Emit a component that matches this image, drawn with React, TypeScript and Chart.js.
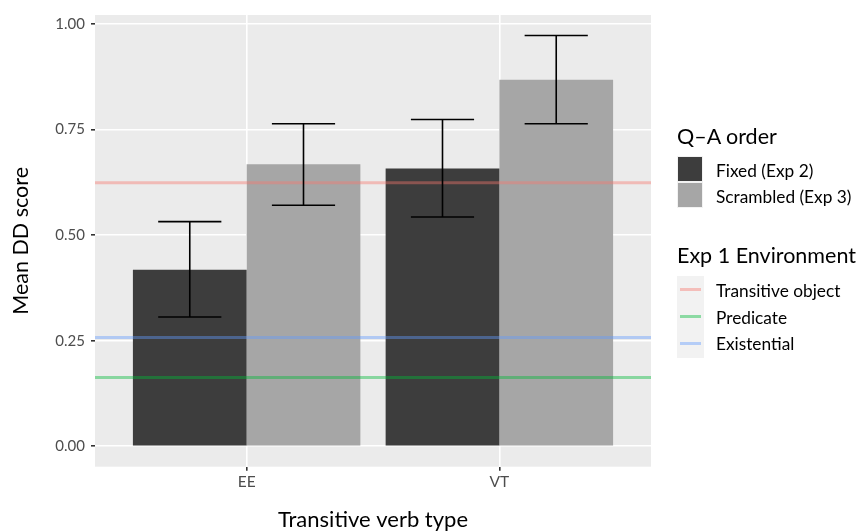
import React, { useEffect, useRef } from "react";
import { Chart, registerables } from "chart.js";

Chart.register(...registerables);

// ---- Data ----
const categories = ["EE", "VT"];
const orderGroups = ["Fixed (Exp 2)", "Scrambled (Exp 3)"];
const fixedMeans = [0.418, 0.658];
const fixedLower = [0.306, 0.543];
const fixedUpper = [0.532, 0.774];
const scrambledMeans = [0.668, 0.868];
const scrambledLower = [0.571, 0.764];
const scrambledUpper = [0.764, 0.973];
const envNames = ["Transitive object", "Predicate", "Existential"];
const envValues = [0.624, 0.163, 0.2575];
const yTicks = [0, 0.25, 0.5, 0.75, 1.0];
const yTickLabels = ["0.00", "0.25", "0.50", "0.75", "1.00"];
const xTitle = "Transitive verb type";
const yTitle = "Mean DD score";
const legendTitle1 = "Q\u2013A order";
const legendTitle2 = "Exp 1 Environment";

// ---- Styles ----
const FONT = "Lato";
const barColors = ["#3D3D3D", "#A6A6A6"];
const envColors = ["rgba(248,118,109,0.42)", "rgba(0,186,56,0.42)", "rgba(97,156,255,0.42)"];
const X_MIN = 0.4;
const X_MAX = 2.6;
const Y_MIN = -0.0486;
const Y_MAX = 1.0216;

const panelBg = {
  id: "panelBg",
  beforeDraw(chart: any) {
    const { ctx, chartArea: a } = chart;
    ctx.save();
    ctx.fillStyle = "#FFFFFF";
    ctx.fillRect(0, 0, chart.width, chart.height);
    ctx.fillStyle = "#EBEBEB";
    ctx.fillRect(a.left, a.top, a.right - a.left, a.bottom - a.top);
    ctx.restore();
  },
};

const errorBars = {
  id: "errorBars",
  afterDatasetsDraw(chart: any) {
    const { ctx } = chart;
    const xs = chart.scales.x;
    const ys = chart.scales.y;
    const lows = [fixedLower, scrambledLower];
    const highs = [fixedUpper, scrambledUpper];
    const half = xs.getPixelForValue(1.125) - xs.getPixelForValue(1);
    ctx.save();
    ctx.strokeStyle = "#000000";
    ctx.lineWidth = 1.6;
    for (let d = 0; d < 2; d++) {
      const meta = chart.getDatasetMeta(d);
      meta.data.forEach((el: any, i: number) => {
        const x = el.x;
        const yl = ys.getPixelForValue(lows[d][i]);
        const yh = ys.getPixelForValue(highs[d][i]);
        ctx.beginPath();
        ctx.moveTo(x, yl);
        ctx.lineTo(x, yh);
        ctx.moveTo(x - half, yl);
        ctx.lineTo(x + half, yl);
        ctx.moveTo(x - half, yh);
        ctx.lineTo(x + half, yh);
        ctx.stroke();
      });
    }
    ctx.restore();
  },
};

export default function App() {
  const ref = useRef<HTMLCanvasElement>(null);

  useEffect(() => {
    document.body.style.margin = "0";
    const canvas = ref.current!;
    const means = [fixedMeans, scrambledMeans];
    const barDatasets = orderGroups.map((g, d) => ({
      type: "bar" as const,
      label: g,
      data: categories.map((_, i) => ({ x: i + 1, y: means[d][i] })),
      backgroundColor: barColors[d],
      borderWidth: 0,
      categoryPercentage: 0.9,
      barPercentage: 1,
      order: 1,
    }));
    const lineDatasets = envNames.map((n, k) => ({
      type: "line" as const,
      label: n,
      data: [
        { x: X_MIN, y: envValues[k] },
        { x: X_MAX, y: envValues[k] },
      ],
      borderColor: envColors[k],
      borderWidth: 3,
      pointRadius: 0,
      fill: false,
      tension: 0,
      order: 0,
    }));

    const chart = new Chart(canvas, {
      type: "bar",
      data: { datasets: [...barDatasets, ...lineDatasets] as any },
      options: {
        animation: false,
        responsive: false,
        devicePixelRatio: 1,
        layout: { padding: { top: 13.3, right: 208, left: 0, bottom: 0 } },
        plugins: { legend: { display: false }, tooltip: { enabled: false } },
        scales: {
          x: {
            type: "linear",
            min: X_MIN,
            max: X_MAX,
            offset: false,
            afterBuildTicks: (s: any) => {
              s.ticks = categories.map((_, i) => ({ value: i + 1 }));
            },
            afterFit: (s: any) => {
              s.height = 65.3;
            },
            ticks: {
              callback: (_v: any, i: number) => categories[i],
              color: "#4D4D4D",
              font: { family: FONT, size: 15.5 },
              padding: 2,
              autoSkip: false,
              maxRotation: 0,
            },
            grid: {
              offset: false,
              color: "#FFFFFF",
              lineWidth: 1.6,
              tickColor: "#333333",
              tickLength: 4,
            },
            border: { display: false },
            title: {
              display: true,
              text: xTitle,
              color: "#000000",
              font: { family: FONT, size: 22, lineHeight: 1.1 },
              padding: { top: 0, bottom: 0 },
            },
          },
          y: {
            type: "linear",
            min: Y_MIN,
            max: Y_MAX,
            afterBuildTicks: (s: any) => {
              s.ticks = yTicks.map((v) => ({ value: v }));
            },
            afterFit: (s: any) => {
              s.width = 95;
            },
            ticks: {
              callback: (_v: any, i: number) => yTickLabels[i],
              color: "#4D4D4D",
              font: { family: FONT, size: 15 },
              padding: 6,
            },
            grid: {
              color: "#FFFFFF",
              lineWidth: 1.6,
              tickColor: "#333333",
              tickLength: 4,
            },
            border: { display: false },
            title: {
              display: true,
              text: yTitle,
              color: "#000000",
              font: { family: FONT, size: 21.5, lineHeight: 1.2 },
              padding: { top: 8, bottom: 0 },
            },
          },
        },
      },
      plugins: [panelBg, errorBars],
    });
    return () => chart.destroy();
  }, []);

  const text = (s: string, left: number, cy: number, size: number, key: string) => (
    <div
      key={key}
      style={{
        position: "absolute",
        left,
        top: cy - size * 0.5,
        fontFamily: FONT,
        fontSize: size,
        lineHeight: `${size * 1.2}px`,
        color: "#000000",
        whiteSpace: "nowrap",
      }}
    >
      {s}
    </div>
  );

  const fillKeyTops = [156, 182];
  const lineKeyCenters = [289.5, 316.2, 343];

  return (
    <div style={{ position: "fixed", left: 0, top: 0, width: 859, height: 532, background: "#FFFFFF" }}>
      <canvas ref={ref} width={859} height={532} style={{ position: "absolute", left: 0, top: 0, width: 859, height: 532 }} />
      {text(legendTitle1, 677, 134.5, 21.5, "t1")}
      {orderGroups.map((g, d) => (
        <React.Fragment key={g}>
          <div
            style={{
              position: "absolute",
              left: 677,
              top: fillKeyTops[d],
              width: 26,
              height: 26,
              background: "#F2F2F2",
            }}
          />
          <div
            style={{
              position: "absolute",
              left: 678,
              top: fillKeyTops[d] + 1,
              width: 24,
              height: 24,
              background: barColors[d],
            }}
          />
          {text(g, 716, fillKeyTops[d] + 13.5, 17.3, "g" + d)}
        </React.Fragment>
      ))}
      {text(legendTitle2, 677, 254, 21.5, "t2")}
      <div style={{ position: "absolute", left: 677, top: 275.5, width: 26.5, height: 82, background: "#F2F2F2" }} />
      {envNames.map((n, k) => (
        <React.Fragment key={n}>
          <div
            style={{
              position: "absolute",
              left: 679.5,
              top: lineKeyCenters[k] - 1.5,
              width: 21.5,
              height: 3,
              background: envColors[k],
            }}
          />
          {text(n, 716, lineKeyCenters[k], 17.3, "e" + k)}
        </React.Fragment>
      ))}
    </div>
  );
}
